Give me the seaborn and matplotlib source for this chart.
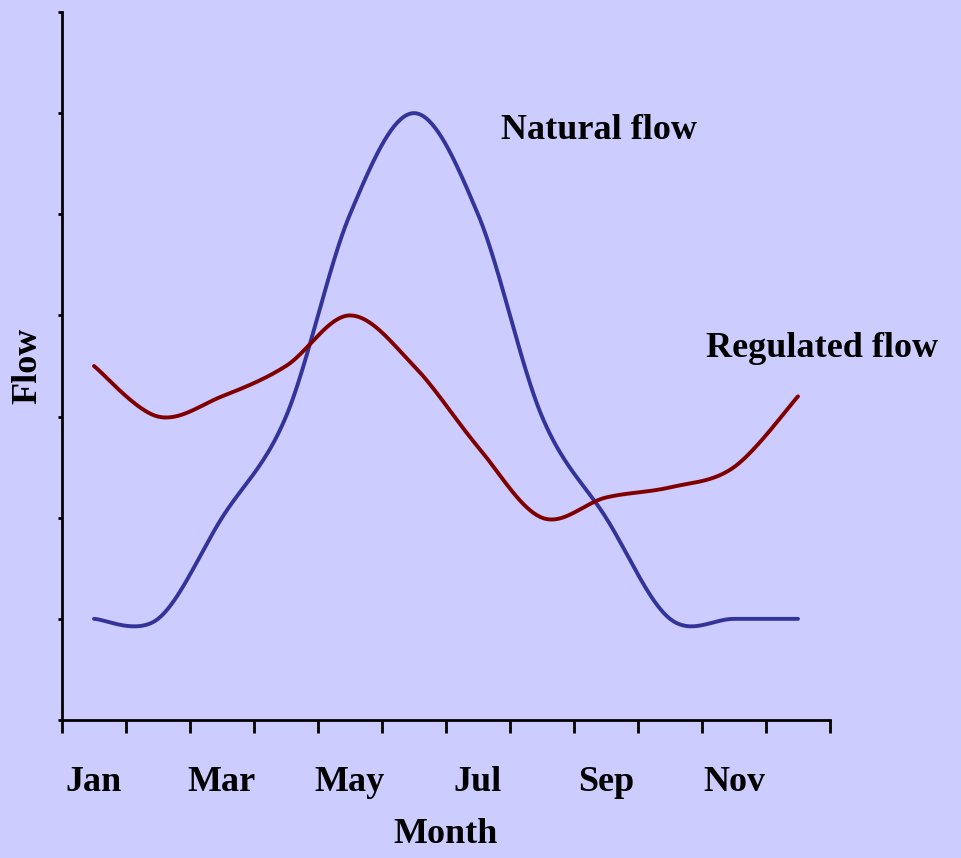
import numpy as np
import pandas as pd
import seaborn as sns
import matplotlib
matplotlib.use("Agg")
import matplotlib.pyplot as plt

# ---- data ----
months = ["Jan", "Feb", "Mar", "Apr", "May", "Jun",
          "Jul", "Aug", "Sep", "Oct", "Nov", "Dec"]
natural_flow = [1.0, 1.0, 2.0, 3.0, 5.0, 6.0, 5.0, 3.0, 2.0, 1.0, 1.0, 1.0]
regulated_flow = [3.5, 3.0, 3.2, 3.5, 4.0, 3.5, 2.7, 2.0, 2.2, 2.3, 2.5, 3.2]
shown_month_labels = months[::2]
series_names = ["Natural flow", "Regulated flow"]
series_colors = {"Natural flow": "#333399", "Regulated flow": "#800000"}


def excel_smooth(xs, ys, n=40):
    """Excel-style smoothed line (Bezier through each data point)."""
    pts = np.column_stack([xs, ys]).astype(float)
    P = np.vstack([pts[0], pts, pts[-1]])
    out = []
    t = np.linspace(0, 1, n)[:, None]
    for i in range(1, len(P) - 2):
        p0, p1, p2, p3 = P[i - 1], P[i], P[i + 1], P[i + 2]
        c1 = p1 + (p2 - p0) / 6.0
        c2 = p2 - (p3 - p1) / 6.0
        seg = ((1 - t) ** 3) * p1 + 3 * ((1 - t) ** 2) * t * c1 \
            + 3 * (1 - t) * (t ** 2) * c2 + (t ** 3) * p2
        out.append(seg if i == 1 else seg[1:])
    return np.vstack(out)


xpos = np.arange(len(months)) + 0.5
frames = []
for name, vals in zip(series_names, [natural_flow, regulated_flow]):
    curve = excel_smooth(xpos, vals)
    frames.append(pd.DataFrame({"x": curve[:, 0], "y": curve[:, 1],
                                "series": name, "order": np.arange(len(curve))}))
df = pd.concat(frames, ignore_index=True)

sns.set_style("ticks")
bg = "#CCCCFF"
plt.rcParams["font.family"] = ["Liberation Serif", "DejaVu Serif"]
plt.rcParams["font.weight"] = "bold"
plt.rcParams["text.color"] = "black"
plt.rcParams["axes.labelcolor"] = "black"
plt.rcParams["xtick.color"] = "black"
plt.rcParams["ytick.color"] = "black"

fig = plt.figure(figsize=(9.61, 8.58), dpi=100, facecolor=bg)
ax = fig.add_axes([62 / 961, 138 / 858, 768 / 961, 708 / 858])
ax.set_facecolor(bg)

sns.lineplot(data=df, x="x", y="y", hue="series", palette=series_colors,
             hue_order=series_names, sort=False, estimator=None,
             linewidth=2.8, legend=False, ax=ax)

ax.set_xlim(0, 12)
ax.set_ylim(0, 7)

for s in ["top", "right"]:
    ax.spines[s].set_visible(False)
for s in ["left", "bottom"]:
    ax.spines[s].set_linewidth(2)
    ax.spines[s].set_color("black")

ax.set_xticks(np.arange(0, 13))
ax.set_xticklabels([])
ax.set_xticks(xpos[::2], minor=True)
ax.set_xticklabels(shown_month_labels, minor=True, fontsize=26, fontweight="bold",
                   color="black")
ax.tick_params(axis="x", which="major", length=9, width=2, direction="out", color="black")
ax.tick_params(axis="x", which="minor", length=0, pad=33, labelcolor="black")

ax.set_yticks(np.arange(0, 8))
ax.set_yticklabels([])
ax.tick_params(axis="y", which="major", length=3, width=2, direction="out", color="black")

ax.set_xlabel("Month", fontsize=26, fontweight="bold", labelpad=14, color="black")
ax.set_ylabel("Flow", fontsize=26, fontweight="bold", labelpad=6, color="black")

ax.text(8.39, 5.83, "Natural flow", fontsize=26, fontweight="bold",
        ha="center", va="center", color="black")
ax.text(11.875, 3.67, "Regulated flow", fontsize=26, fontweight="bold",
        ha="center", va="center", color="black", clip_on=False)

fig.savefig("out.png", dpi=100, facecolor=bg)
